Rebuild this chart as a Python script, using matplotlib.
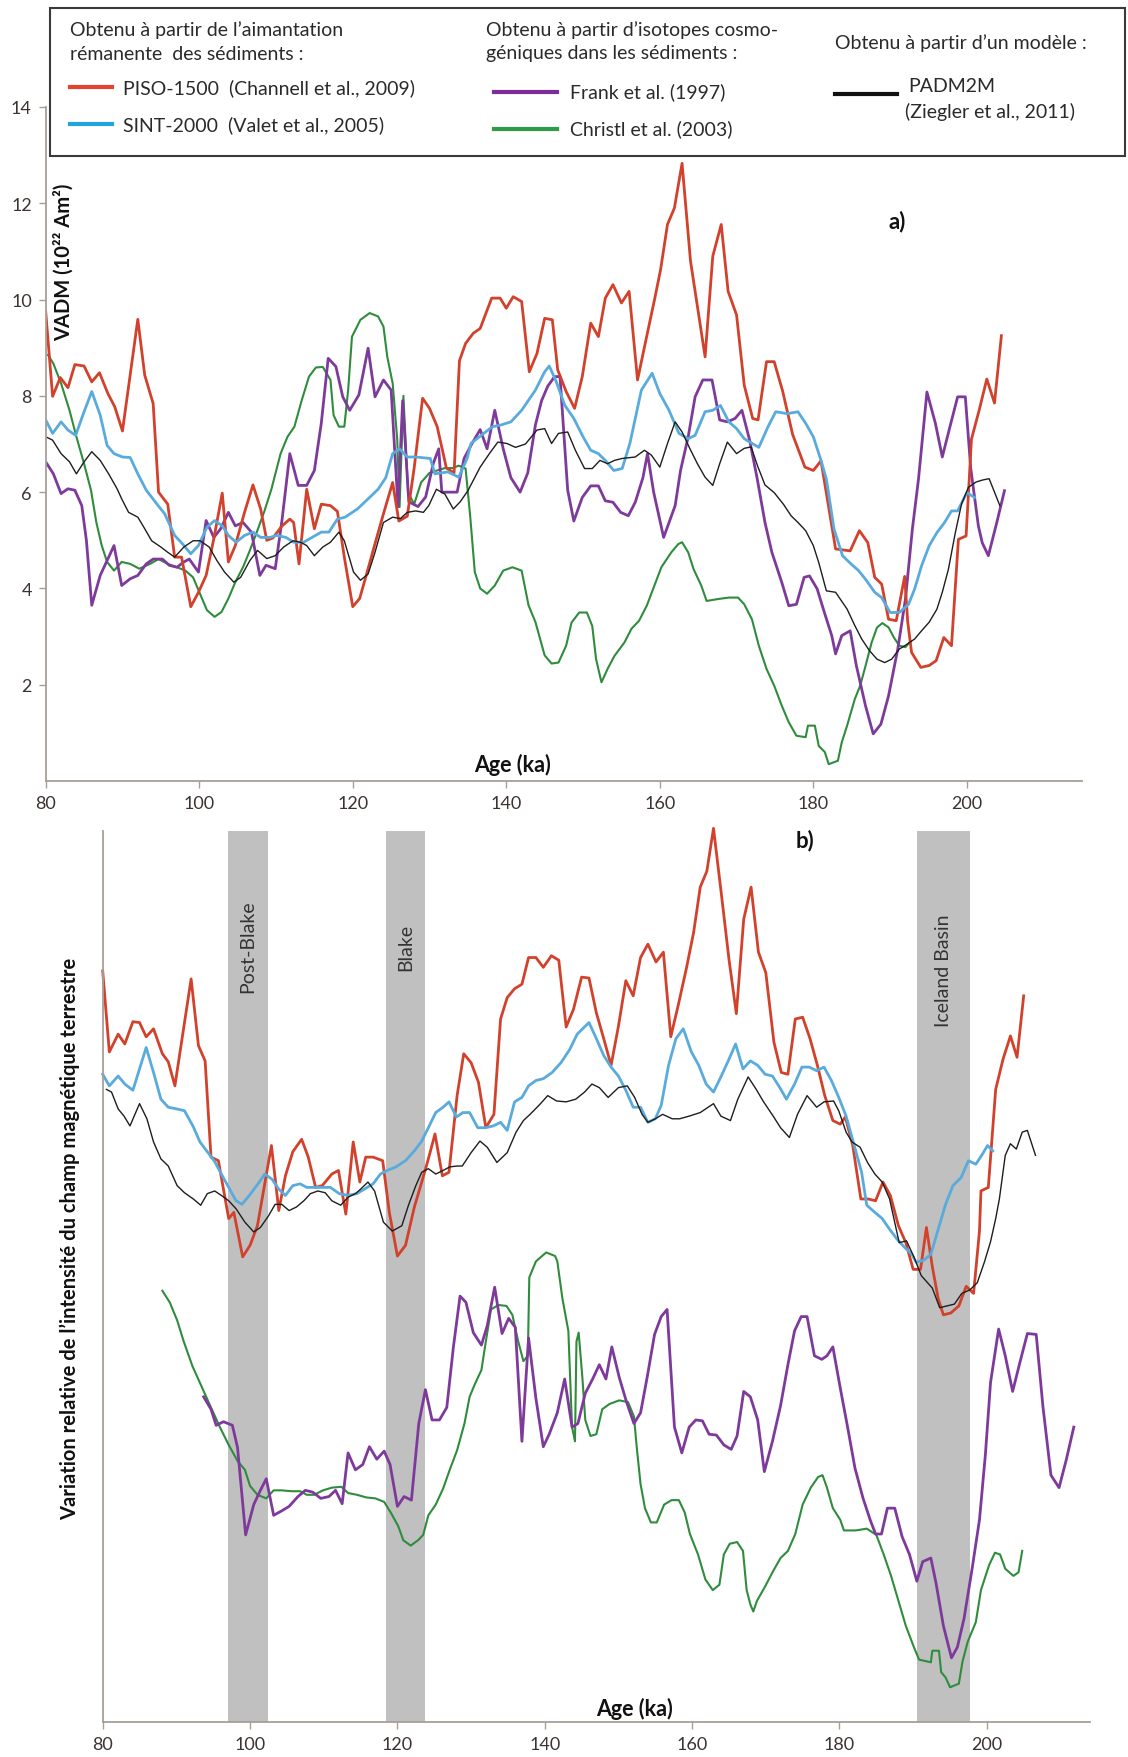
import matplotlib
matplotlib.use("Agg")
import matplotlib.pyplot as plt
from matplotlib.patches import Rectangle
from matplotlib.lines import Line2D

plt.rcParams['font.family'] = ['Lato', 'DejaVu Sans']

# ---------------- panel a) : VADM (10^22 Am^2) ----------------
red_a_age = [80, 80.9, 81.9, 82.9, 83.8, 85.0, 86.0, 87.0, 88.1, 89.0, 90.0, 92.0, 92.9, 94.0, 94.7, 95.9,
             96.8, 97.7, 98.9, 99.9, 100.9, 101.9, 103.0, 103.8, 104.7, 105.9, 107.0, 108.0, 108.8, 109.6,
             110.8, 111.8, 112.3, 113.0, 114.0, 115.0, 115.9, 117.1, 118.0, 118.9, 120.0, 120.9, 122.0, 122.9,
             124.0, 125.2, 126.0, 127.1, 128.0, 129.1, 130.0, 131.0, 132.2, 133.2, 133.9, 134.7, 135.7, 136.6,
             138.1, 139.2, 140.0, 140.9, 142.0, 143.0, 144.0, 145.0, 146.0, 146.7, 147.8, 148.9, 149.9, 151.0,
             152.0, 152.9, 153.9, 155.0, 156.0, 157.1, 158.1, 159.3, 160.1, 161.0, 161.9, 162.9, 164.0, 165.9,
             166.9, 168.0, 168.9, 170.0, 171.0, 172.1, 172.8, 173.9, 174.9, 176.0, 177.3, 178.9, 180.0, 181.0,
             182.9, 184.8, 186.0, 187.1, 188.0, 188.9, 189.8, 190.8, 191.9, 192.3, 192.8, 194.0, 195.1, 196.0,
             197.0, 198.0, 198.9, 199.9, 200.6, 201.6, 202.6, 203.6, 204.5]
red_a_val = [9.75, 7.99, 8.38, 8.17, 8.65, 8.62, 8.29, 8.48, 8.05, 7.77, 7.27, 9.59, 8.43, 7.84, 6.0, 5.75,
             4.65, 4.65, 3.62, 3.92, 4.27, 5.03, 5.98, 4.55, 4.89, 5.58, 6.15, 5.65, 5.0, 5.05,
             5.3, 5.44, 5.37, 4.51, 6.06, 5.24, 5.75, 5.72, 5.6, 4.65, 3.62, 3.79, 4.41, 4.93,
             5.55, 6.2, 5.4, 5.5, 6.5, 7.95, 7.74, 7.36, 6.5, 6.4, 8.73, 9.09, 9.3, 9.4,
             10.03, 10.03, 9.82, 10.06, 9.96, 8.5, 8.88, 9.61, 9.58, 8.54, 8.09, 7.74, 8.4, 9.51,
             9.23, 10.03, 10.31, 9.93, 10.17, 8.33, 9.09, 9.99, 10.62, 11.56, 11.9, 12.83, 10.8, 8.81,
             10.9, 11.56, 10.17, 9.68, 8.22, 7.53, 7.5, 8.71, 8.71, 8.1, 7.2, 6.52, 6.45, 6.65,
             4.82, 4.78, 5.2, 4.95, 4.23, 4.09, 3.36, 3.33, 4.25, 3.3, 2.67, 2.36, 2.4, 2.5,
             2.98, 2.81, 5.02, 5.09, 7.1, 7.7, 8.35, 7.85, 9.25]

blue_a_age = [80, 80.9, 82.0, 82.9, 83.9, 85.0, 86.0, 87.1, 88.0, 88.9, 90.0, 91.0, 92.0, 93.1, 94.5, 95.5,
              96.8, 97.8, 98.9, 99.9, 101.0, 102.0, 103.0, 103.8, 104.8, 105.9, 107.0, 108.0, 109.2, 110.1,
              111.3, 112.3, 113.6, 114.7, 115.9, 116.9, 118.0, 119.0, 120.6, 122.0, 123.3, 124.3, 125.2, 126.1,
              127.1, 128.2, 130.1, 130.7, 132.4, 133.8, 134.9, 135.4, 136.5, 138.2, 139.2, 140.6, 142.0, 143.8,
              145.0, 145.6, 146.5, 147.6, 148.8, 150.0, 151.0, 152.0, 152.9, 154.0, 155.1, 156.1, 157.6, 159.0,
              160.0, 161.2, 162.5, 163.7, 164.6, 165.9, 166.9, 167.9, 169.0, 170.0, 171.0, 172.9, 174.1, 175.1,
              176.6, 178.0, 179.0, 180.0, 181.0, 181.7, 182.7, 183.8, 184.9, 185.9, 186.8, 188.0, 188.9, 190.0,
              191.2, 192.4, 193.2, 194.1, 195.1, 196.1, 197.1, 198.0, 198.8, 200.0, 201.0]
blue_a_val = [7.5, 7.22, 7.46, 7.29, 7.18, 7.67, 8.09, 7.6, 6.97, 6.8, 6.73, 6.72, 6.38, 6.04, 5.75, 5.55,
              5.1, 4.93, 4.72, 4.89, 5.27, 5.41, 5.3, 5.1, 4.96, 5.1, 5.17, 5.06, 5.06, 5.1,
              5.06, 4.96, 4.96, 5.06, 5.17, 5.17, 5.44, 5.48, 5.65, 5.86, 6.06, 6.3, 6.8, 6.9,
              6.73, 6.73, 6.7, 6.38, 6.42, 6.31, 6.7, 7.01, 7.15, 7.36, 7.39, 7.46, 7.7, 8.12,
              8.5, 8.62, 8.3, 7.81, 7.53, 7.15, 6.87, 6.8, 6.66, 6.45, 6.49, 7.01, 8.12, 8.47,
              8.05, 7.7, 7.22, 7.11, 7.18, 7.67, 7.7, 7.8, 7.46, 7.32, 7.11, 6.93, 7.36, 7.67,
              7.63, 7.67, 7.43, 7.15, 6.66, 6.27, 5.23, 4.68, 4.51, 4.37, 4.19, 3.92, 3.81, 3.5,
              3.5, 3.67, 3.99, 4.47, 4.89, 5.16, 5.37, 5.61, 5.61, 5.99, 5.89]

black_a_age = [80, 80.9, 82.0, 83.1, 84.0, 85.0, 86.0, 87.1, 88.2, 89.3, 89.9, 90.8, 92.0, 92.9, 93.8, 95.0,
               95.9, 96.8, 98.0, 99.2, 100.1, 101.3, 102.3, 103.3, 104.5, 105.4, 106.6, 107.6, 108.8, 109.9,
               111.0, 112.2, 113.2, 114.0, 115.0, 116.1, 117.1, 118.2, 118.9, 120.1, 121.0, 122.0, 122.9, 124.0,
               125.2, 126.2, 127.1, 128.2, 129.2, 129.9, 130.9, 132.0, 133.1, 134.0, 135.0, 136.6, 137.8, 138.9,
               140.1, 141.2, 142.5, 144.0, 145.0, 145.9, 146.8, 148.0, 149.0, 150.2, 151.2, 152.2, 153.2, 154.1,
               155.1, 156.8, 158.0, 158.9, 160.0, 161.0, 162.0, 162.9, 163.9, 164.9, 165.9, 166.9, 167.8, 168.8,
               170.0, 171.0, 171.9, 172.7, 173.7, 174.9, 176.1, 177.1, 178.0, 179.0, 180.0, 180.7, 181.7, 182.9,
               184.4, 185.4, 186.3, 187.3, 188.3, 189.3, 190.2, 191.2, 192.2, 193.2, 194.1, 195.1, 196.1, 196.8,
               197.6, 198.5, 199.3, 200.2, 201.2, 202.0, 202.9, 204.3]
black_a_val = [7.15, 7.08, 6.8, 6.63, 6.38, 6.63, 6.84, 6.66, 6.38, 6.07, 5.86, 5.58, 5.48, 5.24, 4.99, 4.86,
               4.75, 4.65, 4.86, 4.99, 4.99, 4.86, 4.58, 4.34, 4.13, 4.23, 4.58, 4.79, 4.62, 4.68,
               4.86, 4.99, 4.96, 4.89, 4.68, 4.86, 4.96, 5.17, 4.99, 4.34, 4.17, 4.3, 4.75, 5.37,
               5.48, 5.45, 5.58, 5.61, 5.58, 5.72, 6.06, 5.96, 5.65, 5.8, 6.03, 6.52, 6.8, 7.04,
               7.01, 6.93, 7.0, 7.29, 7.32, 7.01, 7.22, 7.25, 6.87, 6.49, 6.49, 6.66, 6.59, 6.66,
               6.7, 6.73, 6.87, 6.77, 6.52, 7.01, 7.46, 7.25, 6.91, 6.59, 6.31, 6.14, 6.59, 7.04,
               6.8, 6.91, 6.94, 6.56, 6.15, 5.99, 5.75, 5.51, 5.37, 5.2, 4.89, 4.54, 3.95, 3.92,
               3.57, 3.23, 2.95, 2.71, 2.53, 2.46, 2.53, 2.74, 2.84, 2.95, 3.12, 3.3, 3.57, 3.92,
               4.4, 5.16, 5.75, 6.1, 6.21, 6.25, 6.28, 5.72]

purple_a_age = [80, 81.0, 82.0, 82.9, 83.8, 84.7, 85.3, 86.0, 87.1, 88.9, 89.9, 91.0, 92.0, 93.1, 94.0, 95.2,
                96.1, 97.1, 98.0, 98.7, 99.9, 100.9, 101.9, 102.8, 103.8, 104.7, 105.7, 106.8, 107.9, 108.7,
                109.9, 110.8, 111.8, 112.9, 114.0, 115.0, 115.9, 116.8, 117.8, 118.7, 119.6, 120.8, 122.0, 122.9,
                124.0, 125.0, 125.9, 126.5, 127.3, 128.5, 129.5, 130.5, 131.2, 131.6, 133.6, 134.5, 135.5, 136.6,
                137.5, 138.5, 139.6, 140.6, 141.8, 142.8, 143.8, 144.6, 145.4, 146.3, 147.0, 148.0, 148.8, 149.9,
                151.0, 152.0, 152.9, 153.9, 154.9, 155.9, 156.8, 157.8, 158.4, 159.2, 160.5, 162.0, 162.7, 163.7,
                164.6, 165.6, 166.8, 167.8, 168.8, 169.8, 170.7, 171.7, 172.7, 173.7, 174.6, 175.9, 176.8, 177.8,
                178.8, 179.5, 180.5, 181.5, 182.4, 182.9, 183.7, 184.8, 185.6, 186.8, 187.8, 188.8, 189.8, 191.0,
                192.0, 192.9, 193.7, 194.8, 195.9, 196.8, 197.8, 198.8, 199.8, 200.5, 201.5, 202.0, 202.8, 203.9,
                204.9]
purple_a_val = [6.63, 6.38, 5.97, 6.07, 6.04, 5.72, 5.0, 3.65, 4.27, 4.89, 4.06, 4.2, 4.27, 4.51, 4.61, 4.61,
                4.48, 4.44, 4.55, 4.61, 4.34, 5.41, 5.06, 5.24, 5.58, 5.3, 5.37, 5.17, 4.27, 4.48,
                4.41, 5.44, 6.8, 6.14, 6.14, 6.45, 7.43, 8.78, 8.61, 7.98, 7.7, 8.02, 8.99, 7.98,
                8.33, 8.12, 5.7, 7.9, 5.8, 5.7, 5.9, 6.6, 6.9, 6.0, 6.0, 6.7, 7.0, 7.3,
                6.9, 7.7, 6.9, 6.3, 6.0, 6.4, 7.4, 7.9, 8.2, 8.4, 8.4, 6.04, 5.4, 5.89,
                6.13, 6.13, 5.82, 5.79, 5.58, 5.51, 5.79, 6.3, 6.8, 6.0, 5.06, 5.72, 6.45, 7.15,
                7.98, 8.33, 8.33, 7.5, 7.46, 7.53, 7.7, 7.08, 6.27, 5.37, 4.75, 4.12, 3.64, 3.67,
                4.23, 4.26, 3.99, 3.47, 3.02, 2.64, 3.02, 3.12, 2.4, 1.56, 0.98, 1.18, 1.77, 2.74,
                3.78, 5.23, 6.27, 8.08, 7.43, 6.73, 7.36, 7.98, 7.98, 6.5, 5.3, 4.95, 4.68, 5.37,
                6.03]

green_a_age = [80.3, 81.0, 82.0, 83.1, 84.0, 85.0, 85.9, 86.6, 87.3, 88.0, 88.9, 89.9, 91.0, 92.2, 93.6, 94.7,
               95.9, 97.1, 98.2, 99.2, 100.1, 101.0, 102.0, 102.9, 103.8, 104.7, 105.7, 106.6, 107.5, 108.5,
               109.4, 110.6, 111.5, 112.4, 113.3, 114.3, 115.2, 116.1, 117.1, 117.5, 118.2, 118.9, 119.4, 119.9,
               121.0, 122.2, 123.3, 124.0, 124.5, 125.2, 125.8, 126.1, 126.6, 127.2, 128.0, 128.9, 130.0, 131.0,
               132.0, 133.0, 133.8, 134.7, 135.3, 135.9, 136.6, 137.5, 138.5, 139.6, 140.8, 142.0, 142.9, 143.8,
               145.0, 145.9, 146.8, 147.8, 148.5, 149.5, 150.5, 151.2, 151.7, 152.4, 153.2, 154.1, 155.4, 156.3,
               157.3, 158.3, 159.3, 160.2, 161.5, 162.4, 162.9, 163.7, 164.4, 165.4, 166.1, 167.6, 169.0, 170.2,
               171.0, 172.0, 172.9, 173.9, 174.9, 175.9, 176.8, 177.8, 179.0, 179.3, 180.2, 180.7, 181.5, 182.0,
               183.2, 183.7, 184.4, 185.4, 186.1, 186.8, 187.6, 188.3, 189.0, 189.8, 190.5, 191.2, 192.0, 192.7]
green_a_val = [8.85, 8.67, 8.26, 7.7, 7.15, 6.59, 6.04, 5.37, 4.89, 4.55, 4.37, 4.55, 4.51, 4.41, 4.51, 4.61,
               4.51, 4.44, 4.37, 4.23, 3.89, 3.55, 3.41, 3.51, 3.79, 4.13, 4.44, 4.79, 5.17, 5.61,
               6.06, 6.8, 7.15, 7.36, 7.88, 8.4, 8.59, 8.6, 8.33, 7.6, 7.36, 7.36, 8.12, 9.23,
               9.58, 9.72, 9.65, 9.44, 8.81, 8.26, 7.08, 5.69, 8.0, 6.0, 5.75, 6.2, 6.4, 6.45,
               6.5, 6.5, 6.55, 6.49, 5.5, 4.34, 4.0, 3.89, 4.06, 4.37, 4.44, 4.37, 3.65, 3.3,
               2.61, 2.44, 2.46, 2.81, 3.29, 3.5, 3.5, 3.22, 2.53, 2.05, 2.33, 2.6, 2.88, 3.16,
               3.33, 3.64, 4.06, 4.44, 4.75, 4.92, 4.96, 4.75, 4.4, 4.06, 3.74, 3.78, 3.81, 3.81,
               3.67, 3.36, 2.81, 2.33, 1.98, 1.56, 1.22, 0.94, 0.91, 1.15, 1.15, 0.73, 0.6, 0.35,
               0.42, 0.8, 1.15, 1.7, 1.98, 2.39, 2.88, 3.19, 3.28, 3.19, 2.98, 2.81, 2.78, 2.91]

# ---------------- panel b) : relative intensity (arbitrary units) ----------------
red_b_age = [80, 80.9, 82.1, 83, 84.1, 85, 85.9, 86.9, 88.1, 88.9, 89.8, 92, 93, 93.9, 94.7, 95.7,
             97.1, 97.8, 99, 100, 101, 102.9, 103.9, 104.8, 105.8, 107, 107.9, 108.9, 109.8, 111.1,
             112, 113, 114, 114.9, 115.7, 116.7, 118, 118.9, 120, 121.1, 122.3, 123.3, 124.2, 125.1,
             126.1, 127, 128.1, 129, 130, 131, 132, 133.1, 134, 134.9, 135.9, 136.9, 137.8, 138.8,
             139.8, 140.9, 141.9, 142.9, 143.9, 145, 146, 147, 148, 149, 150, 151, 152, 153,
             154, 155.1, 156.1, 157.1, 158.1, 159.2, 160.2, 161.1, 162, 162.9, 164, 165, 166, 167,
             168, 169, 170, 171.1, 172.1, 173, 174, 175, 176, 177, 178, 179.1, 180.1, 180.8,
             181.8, 182.9, 183.9, 184.9, 185.9, 186.9, 188, 189, 190, 191, 191.8, 192.6, 193.4, 194.1,
             195.1, 196.2, 197.2, 198.2, 199, 199.2, 200.2, 201.2, 202.2, 203.2, 204.1, 205]
red_b_val = [84.3, 75.2, 77.2, 76.1, 78.6, 78.5, 76.9, 77.8, 75.0, 74.1, 71.4, 83.4, 75.9, 74.2, 63.4, 63.0,
             56.5, 57.2, 52.2, 53.5, 55.7, 64.7, 57.4, 61.3, 64.0, 65.4, 63.4, 60.0, 60.2, 61.5,
             61.9, 57.0, 65.1, 60.6, 63.4, 63.4, 63.0, 57.2, 52.3, 53.5, 57.8, 60.6, 63.2, 66.0,
             61.3, 61.7, 70.3, 75.0, 74.0, 71.8, 66.7, 68.2, 78.9, 81.3, 82.3, 82.8, 85.8, 85.8,
             84.7, 86.0, 85.5, 78.0, 80.0, 83.6, 83.5, 79.6, 76.7, 73.7, 78.1, 83.2, 81.5, 85.8,
             87.3, 85.3, 86.4, 76.9, 80.4, 84.5, 88.6, 93.7, 95.5, 100.3, 92.7, 85.6, 79.5, 90.1,
             93.7, 86.4, 84.1, 76.3, 72.9, 72.7, 78.9, 79.1, 76.7, 73.7, 70.3, 67.5, 67.1, 67.9,
             64.7, 58.7, 58.7, 58.5, 60.6, 59.1, 55.7, 53.8, 50.8, 50.8, 55.5, 51.1, 47.5, 45.7,
             45.9, 46.7, 48.9, 48.1, 55.1, 59.6, 60.0, 71.0, 74.4, 77.0, 74.6, 81.5]

blue_b_age = [80, 80.9, 82.1, 83, 84.1, 85, 85.9, 86.9, 87.9, 88.9, 90.1, 91.1, 92.3, 93.2, 94.2, 95.2,
              96.1, 97.1, 98.1, 98.9, 99.9, 100.9, 102, 103, 103.9, 104.8, 105.8, 106.8, 107.7, 108.7,
              110.9, 112.1, 113.3, 114.5, 115.5, 116.7, 117.7, 118.6, 119.8, 121.1, 122.3, 123.3, 124.2, 125.2,
              126.2, 127, 128, 128.9, 129.8, 130.9, 132, 133, 134, 134.9, 135.9, 136.9, 137.8, 138.8,
              139.8, 141, 142.2, 143.4, 144.4, 145.5, 146, 147, 148, 149, 150, 151, 152, 153,
              154, 155, 155.8, 156.8, 157.8, 158.8, 159.9, 160.9, 161.9, 162.9, 163.9, 164.9, 165.9, 166.9,
              167.9, 168.9, 169.9, 170.9, 171.9, 172.8, 173.9, 174.9, 175.9, 176.9, 177.9, 178.9, 179.9, 180.9,
              182, 183, 183.7, 184.8, 185.8, 186.8, 187.8, 188.8, 189.8, 190.4, 191.4, 192.4, 193.4, 194.4,
              195.4, 196.5, 197.5, 198.5, 199.3, 200.1, 200.8]
blue_b_val = [72.7, 71.4, 72.5, 71.6, 70.9, 73.3, 75.7, 72.9, 69.9, 69.0, 68.8, 68.6, 66.8, 65.1, 64.0, 62.9,
              61.5, 60.0, 58.5, 58.1, 59.1, 60.2, 61.5, 60.9, 59.8, 59.1, 60.2, 60.4, 60.0, 60.0,
              60.0, 59.3, 59.1, 59.3, 59.8, 60.4, 61.5, 61.9, 62.3, 63.0, 64.1, 65.2, 66.7, 68.4,
              69.0, 69.6, 67.9, 68.4, 68.4, 66.7, 66.7, 66.9, 67.3, 66.4, 69.6, 70.1, 71.4, 72.0,
              72.2, 72.9, 74.0, 75.5, 77.2, 78.1, 78.5, 76.7, 74.8, 73.5, 72.5, 70.9, 69.0, 69.0,
              67.3, 67.7, 69.2, 73.7, 76.7, 77.8, 75.2, 73.7, 71.6, 70.7, 72.4, 74.2, 76.1, 73.3,
              74.2, 73.7, 72.7, 72.5, 71.2, 69.9, 71.6, 73.5, 73.5, 73.1, 73.5, 72.0, 70.1, 68.0,
              64.7, 61.7, 58.0, 57.2, 56.5, 55.3, 54.2, 53.3, 52.5, 51.6, 51.8, 52.5, 55.3, 58.1,
              60.2, 61.1, 63.0, 62.6, 63.6, 64.7, 64.1]

black_b_age = [80.5, 81.2, 82.1, 82.9, 83.7, 85, 86, 86.9, 87.9, 88.9, 90.1, 91.1, 92.3, 93.3, 94.2, 95.2,
               96.1, 97.1, 98.1, 99.3, 100.5, 101.4, 102.5, 103.4, 104.3, 105.3, 106.3, 107.3, 108.2, 109.2,
               110.2, 111.1, 112.3, 113.3, 114.3, 115, 116, 116.9, 118.1, 119.3, 120.6, 121.5, 122.5, 123.3,
               124.2, 125.2, 126.2, 127.1, 128.1, 128.8, 130, 131.2, 132.2, 133.5, 134.9, 136.1, 137.1, 138,
               139.2, 140.4, 141.6, 142.9, 144.2, 145.4, 146.4, 147.4, 148.6, 150, 151.2, 152.2, 153.2, 154,
               155, 156, 157.3, 158.3, 159.6, 161.1, 162.9, 163.9, 165.2, 166.2, 167.6, 168.7, 169.7, 171,
               172, 173.2, 174.3, 175.6, 176.9, 177.9, 179.2, 179.9, 180.9, 181.7, 182.8, 183.8, 184.8, 185.8,
               186.8, 188.1, 189.1, 190.1, 191.1, 192.6, 193.6, 194.6, 195.6, 196.6, 197.7, 198.7, 199.7, 200.5,
               201.2, 201.7, 202.5, 203.2, 204, 204.8, 205.5, 206.6]
black_b_val = [71.0, 70.7, 68.8, 68.0, 66.9, 69.4, 67.7, 65.1, 63.2, 62.4, 60.2, 59.4, 58.7, 58.0, 59.3, 59.6,
               59.1, 58.5, 57.6, 56.1, 55.0, 55.5, 56.8, 58.1, 58.1, 57.4, 57.8, 58.5, 59.3, 59.6,
               59.4, 58.5, 58.0, 58.9, 59.3, 59.8, 60.6, 59.6, 56.1, 55.1, 55.7, 58.0, 60.2, 61.7,
               62.1, 61.5, 61.9, 62.3, 62.4, 62.4, 63.9, 65.2, 64.5, 62.8, 63.9, 66.2, 67.5, 68.2,
               69.2, 70.3, 69.7, 69.6, 69.9, 70.7, 71.6, 71.2, 70.1, 71.2, 71.4, 70.1, 68.2, 67.3,
               67.7, 68.2, 67.7, 67.7, 68.0, 68.4, 69.4, 68.0, 67.5, 69.9, 72.4, 71.0, 69.6, 68.0,
               66.7, 65.6, 68.2, 70.3, 69.0, 69.6, 69.7, 68.6, 66.2, 65.1, 64.5, 62.8, 61.5, 60.6,
               58.7, 53.8, 54.0, 52.2, 50.1, 48.7, 46.5, 46.7, 46.9, 48.1, 48.5, 49.3, 51.7, 53.9,
               56.5, 58.7, 63.6, 64.9, 64.3, 66.2, 66.4, 63.6]

purple_b_age = [93.7, 94.7, 95.4, 96.4, 97.6, 98.3, 99.4, 100.5, 101.4, 102.2, 103.2, 104.3, 105.3, 106.5, 107.5, 108.5,
                109.6, 110.7, 111.6, 112.5, 113.3, 114.3, 115.3, 116.2, 117.2, 118.2, 119, 120, 120.9, 121.9,
                122.9, 123.8, 124.7, 125.7, 126.7, 127.6, 128.5, 129.3, 130.3, 131.4, 132.2, 133.2, 134.2, 135.1,
                136, 136.9, 137.8, 138.8, 139.8, 140.6, 141.7, 142.7, 143.7, 144.5, 145.5, 146.5, 147.4, 148.3,
                149.1, 150.1, 151.1, 152.1, 153, 153.9, 154.9, 155.8, 156.6, 157.6, 158.6, 159.6, 160.5, 161.4,
                162.3, 163.3, 164.3, 165.3, 166.1, 167, 167.9, 168.9, 169.8, 170.9, 172, 173, 173.9, 174.8,
                175.6, 176.6, 177.6, 178.3, 179.1, 180.1, 181.1, 182.1, 183.2, 184.2, 184.9, 185.7, 186.5, 187.5,
                188.5, 189.5, 190.5, 191.3, 192.4, 193.1, 194.1, 195.2, 196, 196.9, 198, 199, 199.8, 200.5,
                201.6, 202.5, 203.5, 204.5, 205.5, 206.7, 207.6, 208.7, 209.8, 210.8, 211.8]
purple_b_val = [36.5, 35.1, 33.3, 33.7, 33.3, 30.8, 21.0, 24.4, 26.0, 27.3, 23.2, 23.7, 24.2, 25.3, 26.0, 25.8,
                25.1, 25.3, 26.0, 24.5, 30.2, 28.3, 28.9, 30.9, 29.5, 30.4, 28.9, 24.2, 25.3, 24.9,
                33.5, 37.3, 33.9, 33.9, 35.3, 42.1, 47.8, 47.1, 43.7, 42.3, 44.5, 48.8, 43.6, 45.3,
                44.3, 31.5, 43.1, 36.3, 30.9, 32.3, 34.7, 38.5, 33.1, 33.5, 36.9, 38.5, 40.1, 38.5,
                42.1, 38.7, 35.9, 33.5, 34.7, 38.7, 43.5, 45.5, 46.3, 33.1, 30.2, 33.1, 33.9, 33.8,
                32.3, 32.2, 31.1, 30.6, 32.1, 37.1, 36.5, 33.9, 28.1, 31.5, 35.5, 40.1, 43.9, 45.5,
                45.5, 41.1, 40.7, 41.1, 42.1, 37.5, 33.1, 28.5, 25.1, 22.6, 21.1, 21.1, 24.0, 24.0,
                20.8, 18.8, 15.8, 18.0, 18.4, 15.6, 10.8, 7.2, 8.4, 11.6, 17.2, 22.7, 30.0, 38.1,
                44.1, 41.1, 37.1, 40.4, 43.6, 43.5, 35.5, 27.7, 26.3, 29.5, 33.1]

green_b_age = [88.1, 89.1, 90.1, 91, 92.2, 93.5, 94.7, 95.9, 97.1, 98.3, 99.3, 100, 101, 102.2, 103.2, 104.3,
               105.6, 106.8, 107.7, 108.7, 109.9, 111.1, 112.4, 113.3, 114.5, 115.8, 117, 118.2, 119.1, 120.1,
               120.8, 121.8, 122.8, 123.5, 124.2, 125.2, 126.2, 127.1, 128.1, 129.1, 129.8, 130.5, 131.4, 132,
               132.7, 133.7, 134.8, 135.6, 136.4, 137.1, 137.7, 137.9, 138.8, 140.2, 141.4, 141.7, 142.4, 143.2,
               143.7, 144.1, 144.3, 144.6, 145.1, 145.5, 146.2, 147, 147.8, 148.8, 150.1, 151.3, 152.1, 152.5,
               153, 153.6, 154.4, 155.2, 156.2, 157.2, 158.2, 159, 159.7, 160.8, 161.8, 162.8, 163.7, 164.3,
               165.1, 166.1, 166.9, 167.4, 167.9, 168.3, 168.8, 169.9, 170.9, 172, 173, 174, 175, 176.1,
               177.1, 177.7, 178.3, 179.1, 180.1, 180.6, 182.2, 183.7, 185, 186, 187, 188, 189, 190.1,
               190.8, 192.4, 192.6, 193.5, 193.8, 194.4, 195, 196.2, 196.7, 197.4, 198.5, 199.2, 200.3, 201.1,
               201.8, 202.5, 203.6, 204.3, 204.8]
green_b_val = [48.4, 47.1, 45.1, 42.7, 39.9, 37.5, 35.3, 33.1, 31.1, 29.3, 28.3, 26.5, 25.5, 25.1, 26.0, 26.0,
               25.9, 25.9, 25.5, 25.5, 26.0, 26.3, 26.4, 25.7, 25.5, 25.2, 25.1, 24.7, 23.5, 22.0,
               20.4, 19.8, 20.4, 21.0, 23.2, 24.4, 26.2, 28.3, 30.5, 33.5, 36.5, 37.9, 39.5, 42.7,
               46.3, 46.8, 46.7, 45.7, 42.7, 40.5, 41.1, 49.9, 51.7, 52.7, 52.3, 51.7, 47.5, 43.9,
               33.1, 31.5, 42.7, 43.7, 38.7, 33.9, 32.1, 32.3, 35.1, 35.7, 36.1, 35.9, 34.3, 30.7,
               26.7, 24.0, 22.4, 22.4, 24.4, 24.9, 24.9, 23.5, 21.1, 18.8, 16.0, 14.8, 15.4, 18.8,
               20.0, 20.2, 19.2, 14.8, 13.2, 12.4, 13.6, 15.2, 16.8, 18.4, 19.2, 21.1, 24.4, 26.3,
               27.5, 27.7, 26.3, 24.0, 22.7, 21.5, 21.5, 21.7, 21.0, 18.8, 16.4, 13.6, 10.8, 8.4,
               7.0, 6.7, 8.0, 8.0, 5.6, 5.0, 3.9, 4.3, 6.8, 9.0, 11.2, 14.8, 17.6, 19.0,
               18.8, 17.2, 16.4, 16.8, 19.2]

# excursions (grey bands), ka
band_names = ['Post-Blake', 'Blake', 'Iceland Basin']
band_start = [97.05, 118.4, 190.5]
band_end = [102.4, 123.8, 197.7]

W, H = 1128, 1758


def fx(px):
    return px / W


def fy(py):
    return 1 - py / H


spine_col = '#a79f97'
tick_col = '#3b3331'
c_red = '#d2412b'
c_blue = '#58abdc'
c_purple = '#7e3a9b'
c_green = '#2f8c3c'
c_black = '#1e1e1e'

fig = plt.figure(figsize=(W / 100, H / 100), dpi=100)
fig.patch.set_facecolor('white')

# ---- panel a
ax_a = fig.add_axes([fx(45.7), fy(782), fx(1082 - 45.7), (782 - 108) / H])
ax_a.plot(green_a_age, green_a_val, color=c_green, lw=1.5)
ax_a.plot(purple_a_age, purple_a_val, color=c_purple, lw=2.0)
ax_a.plot(red_a_age, red_a_val, color=c_red, lw=2.0)
ax_a.plot(blue_a_age, blue_a_val, color=c_blue, lw=2.0)
ax_a.plot(black_a_age, black_a_val, color=c_black, lw=1.0)
ax_a.set_xlim(80, 215)
ax_a.set_ylim(0, 14)
ax_a.set_xticks(range(80, 201, 20))
ax_a.set_yticks(range(2, 15, 2))

# ---- panel b
ax_b = fig.add_axes([fx(102.7), fy(1723), fx(1090 - 102.7), (1723 - 832) / H])
for s, e in zip(band_start, band_end):
    ax_b.axvspan(s, e, color='#c0c0c0', lw=0, zorder=0)
ax_b.plot(green_b_age, green_b_val, color=c_green, lw=1.5, clip_on=False)
ax_b.plot(purple_b_age, purple_b_val, color=c_purple, lw=2.0, clip_on=False)
ax_b.plot(red_b_age, red_b_val, color=c_red, lw=2.0, clip_on=False)
ax_b.plot(blue_b_age, blue_b_val, color=c_blue, lw=2.0, clip_on=False)
ax_b.plot(black_b_age, black_b_val, color=c_black, lw=1.0, clip_on=False)
ax_b.set_xlim(80, 214)
ax_b.set_ylim(0, 100)
ax_b.set_xticks(range(80, 201, 20))
ax_b.set_yticks([])

band_y = [87.1, 87.1, 84.4]
for name, s, e, yy in zip(band_names, band_start, band_end, band_y):
    ax_b.text((s + e) / 2, yy, name, rotation=90, ha='center', va='center',
              fontsize=14, color='#333333')

for ax in (ax_a, ax_b):
    ax.set_facecolor('none')
    for side in ('top', 'right'):
        ax.spines[side].set_visible(False)
    for side in ('left', 'bottom'):
        ax.spines[side].set_color(spine_col)
        ax.spines[side].set_linewidth(1.3)
    ax.tick_params(direction='out', length=5, width=1.0, color=spine_col,
                   labelcolor=tick_col, labelsize=13, pad=5)

# axis titles / panel letters
fig.text(fx(64), fy(262), 'VADM (10²² Am²)', rotation=90, ha='center', va='center',
         fontsize=14.5, fontweight='bold', color='#111111')
fig.text(fx(512), fy(765), 'Age (ka)', ha='center', va='center', fontsize=15.5,
         fontweight='bold', color='#111111')
fig.text(fx(897), fy(222), 'a)', ha='center', va='center', fontsize=16,
         fontweight='bold', color='#111111')
fig.text(fx(805), fy(841), 'b)', ha='center', va='center', fontsize=16,
         fontweight='bold', color='#111111')
fig.text(fx(634), fy(1709), 'Age (ka)', ha='center', va='center', fontsize=15.5,
         fontweight='bold', color='#111111')
fig.text(fx(70), fy(1239), "Variation relative de l’intensité du champ magnétique terrestre",
         rotation=90, ha='center', va='center', fontsize=14.5, fontweight='bold', color='#111111')

# ---- legend box
box = Rectangle((fx(50), fy(157)), fx(1125 - 50), (157 - 9) / H, transform=fig.transFigure,
                facecolor='white', edgecolor='#3a3a3a', lw=1.5, zorder=10)
fig.add_artist(box)

leg_fs = 14
leg_col = '#2a2a2a'


def leg_text(x, y, s):
    fig.text(fx(x), fy(y), s, ha='left', va='center', fontsize=leg_fs, color=leg_col, zorder=11)


def leg_line(x0, x1, y, c):
    fig.add_artist(Line2D([fx(x0), fx(x1)], [fy(y), fy(y)], transform=fig.transFigure,
                          color=c, lw=3, zorder=11))


leg_text(70, 30, "Obtenu à partir de l’aimantation")
leg_text(70, 54, "rémanente  des sédiments :")
leg_line(70, 112, 88, '#e5432f')
leg_text(123, 88, "PISO-1500  (Channell et al., 2009)")
leg_line(70, 112, 125, '#22a4dd')
leg_text(123, 125, "SINT-2000  (Valet et al., 2005)")

leg_text(486, 30, "Obtenu à partir d’isotopes cosmo-")
leg_text(486, 54, "géniques dans les sédiments :")
leg_line(494, 557, 93, '#7b2d9e')
leg_text(570, 92, "Frank et al. (1997)")
leg_line(494, 557, 130, '#2f9a47')
leg_text(570, 129, "Christl et al. (2003)")

leg_text(835, 43, "Obtenu à partir d’un modèle :")
leg_line(835, 897, 95, '#111111')
leg_text(908, 87, "PADM2M")
leg_text(905, 112, "(Ziegler et al., 2011)")

fig.savefig('out.png', dpi=100)
plt.close()
